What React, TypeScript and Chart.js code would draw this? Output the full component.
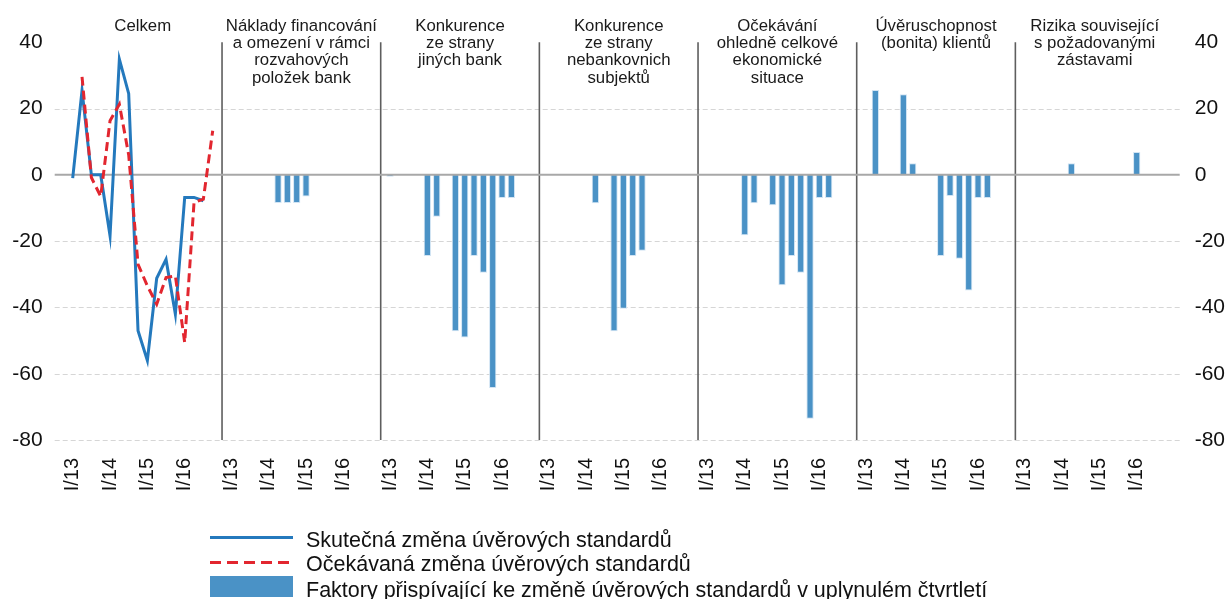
import { useEffect, useRef } from 'react';
import { Chart, registerables } from 'chart.js';

Chart.register(...registerables);

// ---- data ----
const quarterLabels = ['I/13', '', '', '', 'I/14', '', '', '', 'I/15', '', '', '', 'I/16', '', '', ''];

const panelTitles: string[][] = [
  ['Celkem'],
  ['Náklady financování', 'a omezení v rámci', 'rozvahových', 'položek bank'],
  ['Konkurence', 'ze strany', 'jiných bank'],
  ['Konkurence', 'ze strany', 'nebankovnich', 'subjektů'],
  ['Očekávání', 'ohledně celkové', 'ekonomické', 'situace'],
  ['Úvěruschopnost', '(bonita) klientů'],
  ['Rizika související', 's požadovanými', 'zástavami'],
];

// Panel "Celkem" (I/13 .. IV/16)
const actualChange = [-1, 25.5, 0, 0, -18.4, 34.9, 24.5, -47, -56, -31.2, -25.5, -42, -6.8, -6.8, -7.8, null];
const expectedChange = [null, 29.6, -0.8, -6.5, 16.3, 21.3, 6, -27, -33.5, -39, -31, -30.5, -50.6, -8.3, -7.3, 13.3];

// Factor panels (I/13 .. IV/16)
const factorCelkem = [null, null, null, null, null, null, null, null, null, null, null, null, null, null, null, null];
const factorFunding = [null, null, null, null, null, -8.5, -8.5, -8.5, -6.5, null, null, null, null, null, null, null];
const factorBanks = [-0.6, null, null, null, -24.5, -12.6, null, -47.2, -49.1, -24.5, -29.5, -64.3, -7, -7, null, null];
const factorNonBanks = [null, null, null, null, null, -8.6, null, -47.2, -40.4, -24.5, -22.9, null, null, null, null, null];
const factorEconomy = [null, null, null, null, -18.2, -8.6, null, -9.2, -33.3, -24.5, -29.5, -73.6, -7, -7, null, null];
const factorCredit = [null, 25.6, null, null, 24.3, 3.5, null, null, -24.5, -6.4, -25.3, -34.9, -7, -7, null, null];
const factorCollateral = [null, null, null, null, null, 3.5, null, null, null, null, null, null, 6.9, null, null, null];

const factorPanels = [factorCelkem, factorFunding, factorBanks, factorNonBanks, factorEconomy, factorCredit, factorCollateral];

const yTicks = [-80, -60, -40, -20, 0, 20, 40];

const legendLabels = [
  'Skutečná změna úvěrových standardů',
  'Očekávaná změna úvěrových standardů',
  'Faktory přispívající ke změně úvěrových standardů v uplynulém čtvrtletí',
];

// ---- styles ----
const FONT = '"Liberation Sans", Arial, Helvetica, sans-serif';
const BLUE_LINE = '#2479BD';
const RED_LINE = '#E2262F';
const BAR_BLUE = '#4A92C6';

const SLOTS_PER_PANEL = 17;
const PANEL_COUNT = panelTitles.length;

function buildLabels(): string[] {
  const out: string[] = [''];
  for (let p = 0; p < PANEL_COUNT; p++) {
    out.push(...quarterLabels);
    out.push('');
  }
  return out;
}

function buildSeries(perPanel: (number | null)[][]): (number | null)[] {
  const out: (number | null)[] = [null];
  for (let p = 0; p < PANEL_COUNT; p++) {
    const arr = perPanel[p] || [];
    for (let q = 0; q < quarterLabels.length; q++) out.push(arr[q] ?? null);
    out.push(null);
  }
  return out;
}

const idx = (panel: number, q: number) => 1 + panel * SLOTS_PER_PANEL + q;

export default function App() {
  const ref = useRef<HTMLCanvasElement | null>(null);

  useEffect(() => {
    if (!ref.current) return;
    const labels = buildLabels();
    const bars = buildSeries(factorPanels);
    const blue = buildSeries([actualChange]);
    const red = buildSeries([expectedChange]);

    const decor = {
      id: 'decor',
      beforeDatasetsDraw(chart: any) {
        const { ctx, chartArea, scales } = chart;
        const y = scales.y;
        const x = scales.x;
        ctx.save();
        ctx.strokeStyle = '#D6D6D6';
        ctx.lineWidth = 1;
        ctx.setLineDash([5, 3]);
        for (const v of yTicks) {
          if (v === 0 || v === 40) continue;
          const py = Math.round(y.getPixelForValue(v)) + 0.5;
          ctx.beginPath();
          ctx.moveTo(chartArea.left - 4, py);
          ctx.lineTo(chartArea.right + 1, py);
          ctx.stroke();
        }
        ctx.setLineDash([]);
        ctx.strokeStyle = '#5E5E5E';
        ctx.lineWidth = 1.6;
        for (let p = 0; p < PANEL_COUNT - 1; p++) {
          const px = x.getPixelForValue((p + 1) * SLOTS_PER_PANEL);
          ctx.beginPath();
          ctx.moveTo(px, chartArea.top);
          ctx.lineTo(px, chartArea.bottom);
          ctx.stroke();
        }
        ctx.restore();
      },
      afterDatasetDraw(chart: any, args: any) {
        if (args.index !== 0) return;
        const { ctx, chartArea, scales } = chart;
        const py = scales.y.getPixelForValue(0);
        ctx.save();
        ctx.strokeStyle = '#A8A8A8';
        ctx.lineWidth = 2;
        ctx.beginPath();
        ctx.moveTo(chartArea.left - 4, py);
        ctx.lineTo(chartArea.right + 1, py);
        ctx.stroke();
        ctx.restore();
      },
      afterDraw(chart: any) {
        const { ctx, scales } = chart;
        const x = scales.x;
        ctx.save();
        // panel titles
        ctx.fillStyle = '#1A1A1A';
        ctx.font = `16.8px ${FONT}`;
        ctx.textAlign = 'center';
        ctx.textBaseline = 'alphabetic';
        for (let p = 0; p < PANEL_COUNT; p++) {
          const cx = (x.getPixelForValue(idx(p, 0)) + x.getPixelForValue(idx(p, quarterLabels.length - 1))) / 2;
          panelTitles[p].forEach((line, i) => {
            ctx.fillText(line, cx, 30.7 + i * 17.3);
          });
        }
        // legend
        const lx0 = 210;
        const lx1 = 293;
        ctx.lineWidth = 3;
        ctx.strokeStyle = BLUE_LINE;
        ctx.beginPath();
        ctx.moveTo(lx0, 537.5);
        ctx.lineTo(lx1, 537.5);
        ctx.stroke();
        ctx.strokeStyle = RED_LINE;
        ctx.setLineDash([11, 6]);
        ctx.beginPath();
        ctx.moveTo(lx0, 562.5);
        ctx.lineTo(lx1, 562.5);
        ctx.stroke();
        ctx.setLineDash([]);
        ctx.fillStyle = BAR_BLUE;
        ctx.fillRect(lx0, 576, lx1 - lx0, 21);
        ctx.fillStyle = '#111';
        ctx.font = `21.5px ${FONT}`;
        ctx.textAlign = 'left';
        const baselines = [546.5, 571, 596.5];
        legendLabels.forEach((t, i) => ctx.fillText(t, 306, baselines[i]));
        ctx.restore();
      },
    };

    const xTickFont = { family: FONT, size: 20 };
    const yTickFont = { family: FONT, size: 21 };

    const chart = new Chart(ref.current, {
      type: 'bar',
      data: {
        labels,
        datasets: [
          {
            type: 'bar',
            label: legendLabels[2],
            data: bars,
            backgroundColor: BAR_BLUE,
            borderColor: 'rgba(205,225,242,0.9)',
            borderWidth: 1,
            barPercentage: 0.78,
            categoryPercentage: 1,
            order: 3,
            yAxisID: 'y',
          } as any,
          {
            type: 'line',
            label: legendLabels[0],
            data: blue,
            borderColor: BLUE_LINE,
            borderWidth: 3,
            pointRadius: 0,
            tension: 0,
            spanGaps: false,
            fill: false,
            order: 2,
            yAxisID: 'y',
          } as any,
          {
            type: 'line',
            label: legendLabels[1],
            data: red,
            borderColor: RED_LINE,
            borderWidth: 3,
            borderDash: [9, 5],
            pointRadius: 0,
            tension: 0,
            spanGaps: false,
            fill: false,
            order: 1,
            yAxisID: 'y',
          } as any,
        ],
      },
      options: {
        responsive: false,
        animation: false,
        devicePixelRatio: 1,
        layout: { padding: { top: 42.3, left: 0, right: 0, bottom: 0 } },
        plugins: { legend: { display: false }, tooltip: { enabled: false }, title: { display: false } },
        scales: {
          x: {
            type: 'category',
            offset: true,
            grid: { display: false, drawTicks: false },
            border: { display: false },
            ticks: {
              autoSkip: false,
              maxRotation: 90,
              minRotation: 90,
              padding: 18,
              color: '#111',
              font: xTickFont,
            },
            afterFit(scale: any) {
              scale.height = 159;
            },
          },
          y: {
            position: 'left',
            min: -80,
            max: 40,
            grid: { display: false, drawTicks: false },
            border: { display: false },
            ticks: { stepSize: 20, padding: 16, color: '#111', font: yTickFont },
            afterFit(scale: any) {
              scale.width = 58.7;
            },
          },
          y2: {
            position: 'right',
            min: -80,
            max: 40,
            grid: { display: false, drawTicks: false },
            border: { display: false },
            ticks: { stepSize: 20, padding: 16, color: '#111', font: yTickFont },
            afterFit(scale: any) {
              scale.width = 50.3;
            },
          },
        },
      } as any,
      plugins: [decor],
    });

    return () => chart.destroy();
  }, []);

  return (
    <div style={{ position: 'absolute', left: 0, top: 0, width: 1229, height: 599, background: '#fff' }}>
      <canvas ref={ref} width={1229} height={599} style={{ display: 'block' }} />
    </div>
  );
}
